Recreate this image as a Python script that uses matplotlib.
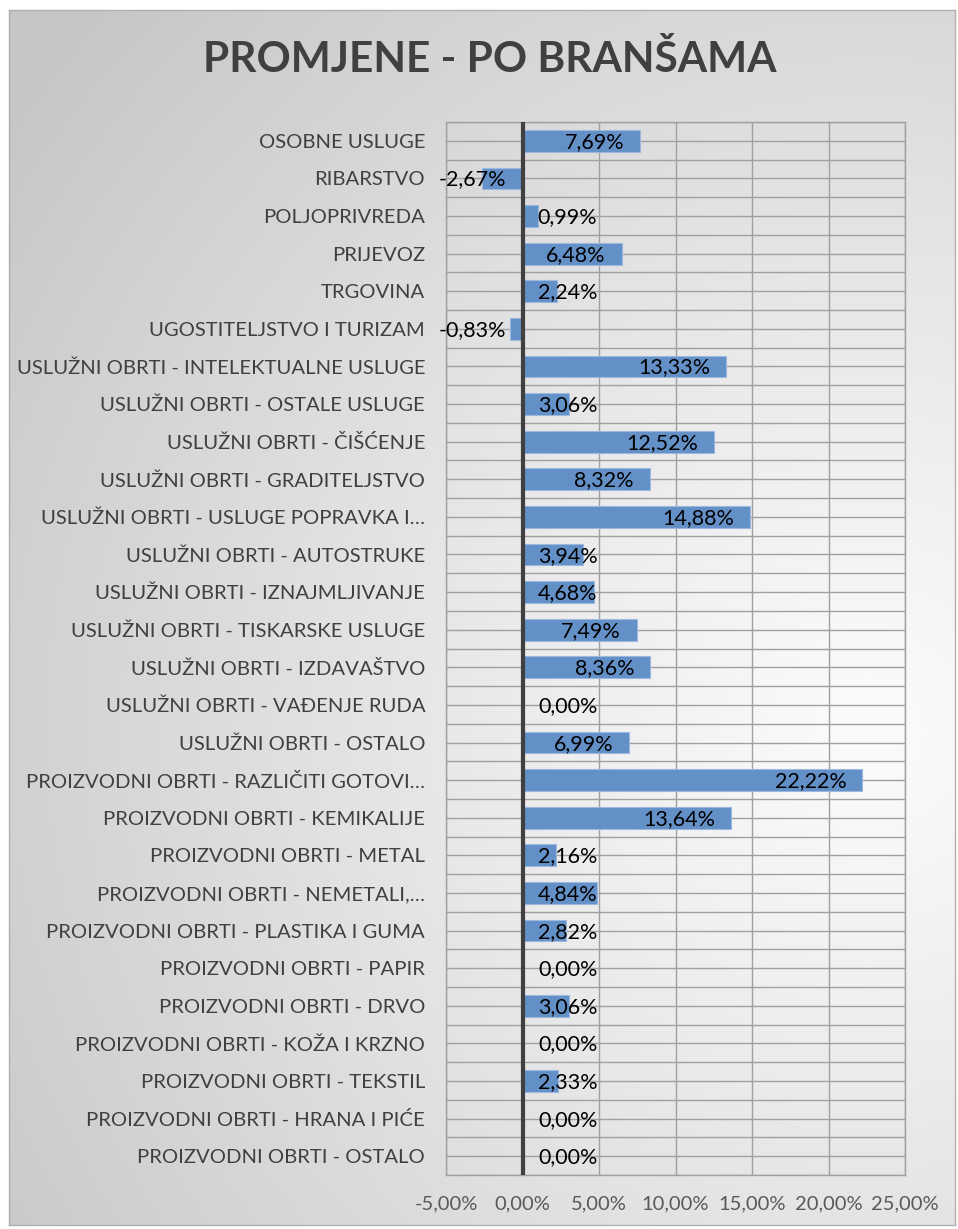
import numpy as np
import matplotlib
matplotlib.use("Agg")
import matplotlib.pyplot as plt
from matplotlib.ticker import FuncFormatter

categories = [
    "OSOBNE USLUGE",
    "RIBARSTVO",
    "POLJOPRIVREDA",
    "PRIJEVOZ",
    "TRGOVINA",
    "UGOSTITELJSTVO I TURIZAM",
    "USLUŽNI OBRTI - INTELEKTUALNE USLUGE",
    "USLUŽNI OBRTI - OSTALE USLUGE",
    "USLUŽNI OBRTI - ČIŠĆENJE",
    "USLUŽNI OBRTI - GRADITELJSTVO",
    "USLUŽNI OBRTI - USLUGE POPRAVKA I…",
    "USLUŽNI OBRTI - AUTOSTRUKE",
    "USLUŽNI OBRTI - IZNAJMLJIVANJE",
    "USLUŽNI OBRTI - TISKARSKE USLUGE",
    "USLUŽNI OBRTI - IZDAVAŠTVO",
    "USLUŽNI OBRTI - VAĐENJE RUDA",
    "USLUŽNI OBRTI - OSTALO",
    "PROIZVODNI OBRTI - RAZLIČITI GOTOVI…",
    "PROIZVODNI OBRTI - KEMIKALIJE",
    "PROIZVODNI OBRTI - METAL",
    "PROIZVODNI OBRTI - NEMETALI,…",
    "PROIZVODNI OBRTI - PLASTIKA I GUMA",
    "PROIZVODNI OBRTI - PAPIR",
    "PROIZVODNI OBRTI - DRVO",
    "PROIZVODNI OBRTI - KOŽA I KRZNO",
    "PROIZVODNI OBRTI - TEKSTIL",
    "PROIZVODNI OBRTI - HRANA I PIĆE",
    "PROIZVODNI OBRTI - OSTALO",
]
values = [7.69, -2.67, 0.99, 6.48, 2.24, -0.83, 13.33, 3.06, 12.52, 8.32,
          14.88, 3.94, 4.68, 7.49, 8.36, 0.00, 6.99, 22.22, 13.64, 2.16,
          4.84, 2.82, 0.00, 3.06, 0.00, 2.33, 0.00, 0.00]
title = "PROMJENE - PO BRANŠAMA"
x_ticks = [-5, 0, 5, 10, 15, 20, 25]

FONT = ["Lato", "DejaVu Sans"]
plt.rcParams["font.family"] = FONT

W, H = 958, 1229
fig = plt.figure(figsize=(W / 100, H / 100), dpi=100)
fig.patch.set_facecolor("white")

# background gradient panel
bg = fig.add_axes([9 / W, 1 - 1225 / H, (955 - 9) / W, (1225 - 10) / H])
yy, xx = np.mgrid[0:1215, 0:946]
cx, cy = 860, 720
d = np.sqrt((xx - cx) ** 2 + (yy - cy) ** 2) / 1050.0
d = np.clip(d, 0, 1)
g = 0.985 - (0.985 - 0.78) * d ** 1.1
img = np.dstack([g, g, g])
bg.imshow(img, aspect="auto", extent=[0, 1, 0, 1], origin="upper")
bg.set_xlim(0, 1)
bg.set_ylim(0, 1)
bg.set_xticks([])
bg.set_yticks([])
for s in bg.spines.values():
    s.set_color("#b0b0b0")
    s.set_linewidth(1)

left, right, top, bottom = 446, 905, 122, 1175
ax = fig.add_axes([left / W, 1 - bottom / H, (right - left) / W, (bottom - top) / H])
ax.set_facecolor("none")

n = len(categories)
y = np.arange(n)
ax.barh(y, values, height=0.58, color="#6490c8", edgecolor="#9bb8de",
        linewidth=0.8, zorder=3)

ax.set_xlim(-5, 25)
ax.set_ylim(n - 0.5, -0.5)
ax.set_xticks(x_ticks)
ax.xaxis.set_major_formatter(FuncFormatter(lambda v, p: f"{v:.2f}%".replace(".", ",")))
ax.set_yticks(y)
ax.set_yticklabels(categories)
ax.tick_params(axis="y", length=0, pad=15, labelsize=14.6, labelcolor="#404040")
ax.tick_params(axis="x", length=0, pad=15, labelsize=14.5, labelcolor="#595959")

ax.grid(axis="x", color="#a0a0a0", linewidth=1, zorder=1)
ax.hlines(np.arange(-0.5, n, 0.5), -5, 25, color="#a0a0a0", linewidth=1, zorder=1)
for s in ax.spines.values():
    s.set_color("#a0a0a0")
    s.set_linewidth(1)
ax.axvline(0, color="#404040", linewidth=3, zorder=4)

pad = 1.05
min_right_pos = 4.9
neg_right = -1.1
for yi, v in zip(y, values):
    label = f"{v:.2f}%".replace(".", ",")
    if v >= 0:
        xr = max(v - pad, min_right_pos)
    else:
        xr = neg_right
    ax.text(xr, yi + 0.03, label, ha="right", va="center", fontsize=15.5,
            color="black", zorder=5)

fig.text(490 / W, 1 - 60 / H, title, ha="center", va="center", fontsize=30.5,
         fontweight="bold", color="#404040")

fig.savefig("out.png", dpi=100)
